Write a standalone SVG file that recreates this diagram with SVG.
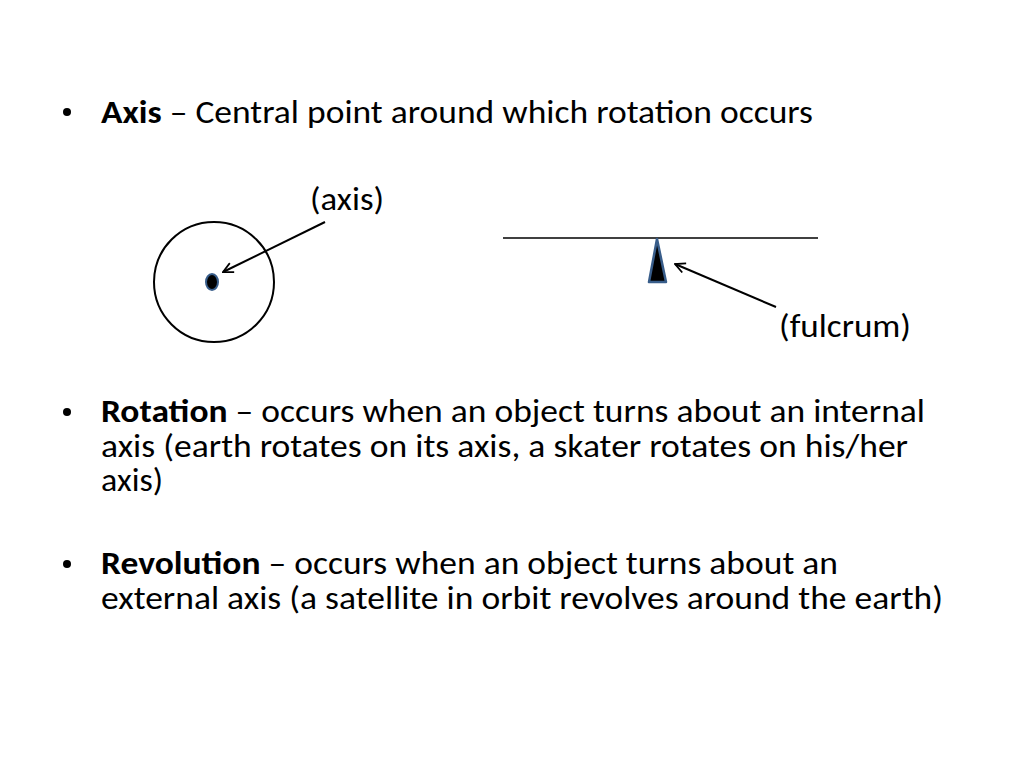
<svg xmlns="http://www.w3.org/2000/svg" width="1024" height="768" viewBox="0 0 1024 768">
<defs>
<style>
text{font-family:Carlito,Calibri,"Liberation Sans",sans-serif;font-size:32px;fill:#000}
.b{font-weight:bold}
.ln{stroke:#000;stroke-width:2;fill:none}
</style>
<marker id="ah" viewBox="0 0 12 12" refX="11" refY="6" markerWidth="12" markerHeight="12" markerUnits="userSpaceOnUse" orient="auto">
<path d="M1,1 L11,6 L1,11" fill="none" stroke="#000" stroke-width="1.8"/>
</marker>
</defs>
<rect width="1024" height="768" fill="#fff"/>
<g id="bullets">
<circle cx="67" cy="112" r="4"/>
<circle cx="67" cy="412" r="4"/>
<circle cx="67" cy="564" r="4"/>
</g>
<g id="text-axis">
<text x="101" y="123" textLength="712" lengthAdjust="spacingAndGlyphs"><tspan class="b">Axis</tspan> – Central point around which rotation occurs</text>
</g>
<g id="node-circle">
<circle cx="214" cy="282" r="60" class="ln" stroke-width="2.5"/>
<ellipse cx="212" cy="282" rx="6" ry="8" fill="#000" stroke="#385d8a" stroke-width="2"/>
</g>
<g id="label-axis"><text x="310" y="210" textLength="74" lengthAdjust="spacingAndGlyphs">(axis)</text></g>
<g id="node-lever">
<line x1="503" y1="238" x2="818" y2="238" stroke="#000" stroke-width="1.5"/>
<polygon points="657,239 649,282 666,282" fill="#000" stroke="#385d8a" stroke-width="2.5" stroke-linejoin="round"/>
</g>
<g id="label-fulcrum"><text x="779" y="337" textLength="132" lengthAdjust="spacingAndGlyphs">(fulcrum)</text></g>
<g id="connectors">
<line x1="325" y1="222" x2="223" y2="272" class="ln" marker-end="url(#ah)"/>
<line x1="776" y1="307" x2="675" y2="264" class="ln" marker-end="url(#ah)"/>
</g>
<g id="text-rotation">
<text x="101" y="422" textLength="824" lengthAdjust="spacingAndGlyphs"><tspan class="b">Rotation</tspan> – occurs when an object turns about an internal</text>
<text x="101" y="457" textLength="807" lengthAdjust="spacingAndGlyphs">axis (earth rotates on its axis, a skater rotates on his/her</text>
<text x="101" y="491" textLength="62" lengthAdjust="spacingAndGlyphs">axis)</text>
</g>
<g id="text-revolution">
<text x="101" y="574" textLength="737" lengthAdjust="spacingAndGlyphs"><tspan class="b">Revolution</tspan> – occurs when an object turns about an</text>
<text x="101" y="609" textLength="842" lengthAdjust="spacingAndGlyphs">external axis (a satellite in orbit revolves around the earth)</text>
</g>
</svg>
